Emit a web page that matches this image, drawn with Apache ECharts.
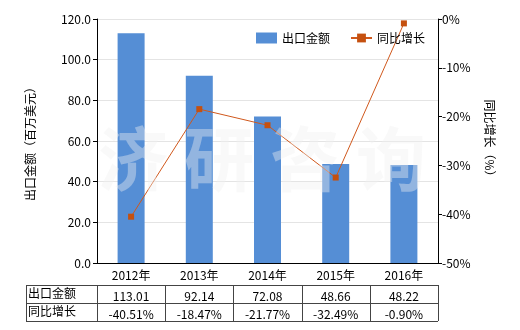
<!DOCTYPE html>
<html><head><meta charset="utf-8">
<script src="https://cdn.jsdelivr.net/npm/echarts@6/dist/echarts.min.js"></script>
<style>html,body{margin:0;padding:0;background:#fff}#c{width:520px;height:330px}</style>
</head><body><div id="c"></div>
<script>
var categories = ['2012年','2013年','2014年','2015年','2016年'];
var exportValues = [113.01, 92.14, 72.08, 48.66, 48.22];
var growthValues = [-40.51, -18.47, -21.77, -32.49, -0.90];
var exportLabels = ['113.01','92.14','72.08','48.66','48.22'];
var growthLabels = ['-40.51%','-18.47%','-21.77%','-32.49%','-0.90%'];
var seriesNames = ['出口金额','同比增长'];

var FONT = '"Noto Sans CJK SC", sans-serif';
var G = {left:97, right:82, top:19, bottom:67};
var W = 520, H = 330;
var plotL = G.left, plotR = W - G.right;
var colW = (plotR - plotL) / categories.length;
var tTop = 285, rowH = 18, tLeft = 26;

var graphics = [];
// watermark
var wm = ['济','研','咨','询'];
wm.forEach(function(ch,i){
  graphics.push({type:'text', left:98 + i*86, top:124, z:50, silent:true,
    style:{text:ch, fill:'rgba(240,240,240,0.4)', font:'bold 70px ' + FONT}});
});
// table lines
var lineStyle = {stroke:'#444', lineWidth:1};
var tBottom = tTop + rowH*2;
[tTop, tTop+rowH, tBottom].forEach(function(y){
  graphics.push({type:'line', shape:{x1:tLeft, y1:y+0.5, x2:plotR, y2:y+0.5}, style:lineStyle});
});
var xs = [tLeft, plotL];
for (var i=1;i<=categories.length;i++) xs.push(Math.round(plotL + colW*i));
xs.forEach(function(x){
  graphics.push({type:'line', shape:{x1:x+0.5, y1:tTop, x2:x+0.5, y2:tBottom}, style:lineStyle});
});
var rows = [[seriesNames[0], exportLabels],[seriesNames[1], growthLabels]];
rows.forEach(function(r,ri){
  var yc = tTop + rowH*ri + rowH/2 + 1;
  graphics.push({type:'text', x:tLeft+2, y:yc-2, style:{text:r[0], fill:'#000', font:'12px '+FONT, textVerticalAlign:'middle', textAlign:'left'}});
  r[1].forEach(function(v,ci){
    graphics.push({type:'text', x:plotL + colW*(ci+0.5), y:yc+1, style:{text:v, fill:'#000', font:'12px '+FONT, textVerticalAlign:'middle', textAlign:'center'}});
  });
});

var chart = echarts.init(document.getElementById('c'));
chart.setOption({
  animation:false,
  textStyle:{fontFamily:FONT},
  grid:G,
  legend:{top:27, left:251, itemWidth:21, itemHeight:11, itemGap:20,
    textStyle:{fontSize:12, color:'#000', fontFamily:FONT},
    data:[{name:seriesNames[0], icon:'rect'},{name:seriesNames[1]}]},
  xAxis:{type:'category', data:categories,
    axisLine:{lineStyle:{color:'#000'}},
    axisTick:{alignWithLabel:true, length:4, lineStyle:{color:'#000'}},
    axisLabel:{color:'#000', fontSize:12, margin:6, fontFamily:FONT}},
  yAxis:[{type:'value', min:0, max:120, interval:20,
    name:'出口金额（百万美元）', nameLocation:'middle', nameGap:61, nameRotate:90,
    nameTextStyle:{fontSize:12, color:'#000', fontFamily:FONT},
    axisLine:{show:true, lineStyle:{color:'#000'}},
    axisTick:{show:true, length:4, lineStyle:{color:'#000'}},
    axisLabel:{color:'#000', fontSize:12, margin:6, formatter:function(v){return v.toFixed(1);}},
    splitLine:{lineStyle:{color:'#e4e4e4'}}},
   {type:'value', min:-50, max:0, interval:10,
    name:'同比增长（%）', nameLocation:'middle', nameGap:46, nameRotate:-90,
    nameTextStyle:{fontSize:12, color:'#000', fontFamily:FONT},
    axisLine:{show:true, lineStyle:{color:'#000'}},
    axisTick:{show:true, length:4, lineStyle:{color:'#000'}},
    axisLabel:{color:'#000', fontSize:12, margin:4, formatter:'{value}%'},
    splitLine:{show:false}}],
  series:[{name:seriesNames[0], type:'bar', data:exportValues, barWidth:27,
      itemStyle:{color:'#558ED5'}},
    {name:seriesNames[1], type:'line', yAxisIndex:1, data:growthValues,
      symbol:'rect', symbolSize:6,
      lineStyle:{color:'#D0581C', width:1},
      itemStyle:{color:'#C5500F'}}],
  graphic:graphics
});
</script></body></html>
